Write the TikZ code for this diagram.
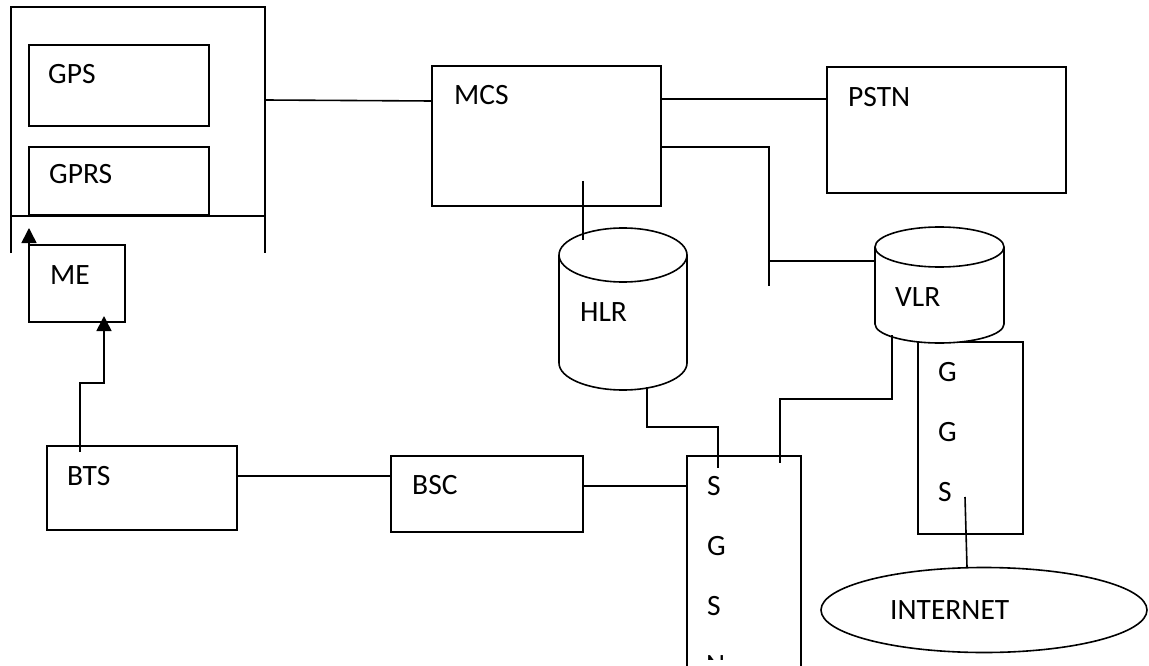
\documentclass[tikz,border=0pt]{standalone}
\usepackage{fontspec}
\setmainfont{Carlito}
\usetikzlibrary{arrows.meta,shapes.geometric}
\begin{document}
\begin{tikzpicture}[x=1pt,y=-1pt,
  ln/.style={line width=1.6pt},
  box/.style={draw, line width=1.6pt, rectangle, inner sep=0pt, outer sep=0pt, anchor=north west},
  zone/.style={inner sep=0pt, outer sep=0pt, anchor=north west},
  lbl/.style={inner sep=0pt, anchor=west, font=\fontsize{29.5}{34}\selectfont},
  arr/.style={line width=1.6pt, -{Triangle[length=15pt,width=15pt]}}]
\useasboundingbox (0,0) rectangle (1149,666);
\clip (0,0) rectangle (1149,666);

% terminal frame
\coordinate (fTL) at (11,7);
\coordinate (fTR) at (265,7);
\coordinate (fBL) at (11,253);
\coordinate (fBR) at (265,253);
\coordinate (fML) at (11,216);
\coordinate (fMR) at (265,216);
\draw[ln] (fBL) -- (fTL) -- (fTR) -- (fBR);
\draw[ln] (fML) -- (fMR);

% boxes
\node[box, minimum width=180pt, minimum height=81pt] (gps) at (29,45) {};
\node[box, minimum width=180pt, minimum height=68pt] (gprs) at (29,147) {};
\node[box, minimum width=96pt, minimum height=77pt] (me) at (29,245) {};
\node[box, minimum width=190pt, minimum height=84pt] (bts) at (47,446) {};
\node[box, minimum width=192pt, minimum height=76pt] (bsc) at (391,456) {};
\node[box, minimum width=229pt, minimum height=140pt] (mcs) at (432,66) {};
\node[box, minimum width=239pt, minimum height=126pt] (pstn) at (827,67) {};
\node[box, minimum width=114pt, minimum height=264pt] (sgsn) at (687,456) {};
\node[box, minimum width=105pt, minimum height=192pt] (ggsn) at (918,342) {};

% HLR cylinder
\node[zone, minimum width=128pt, minimum height=162pt] (hlr) at (559,228) {};
\draw[ln] (559,255) -- (559,363) arc[start angle=180, end angle=360, x radius=64pt, y radius=27pt] -- (687,255);
\draw[ln] (623,255) ellipse [x radius=64pt, y radius=27pt];

% VLR cylinder
\node[zone, minimum width=129pt, minimum height=116pt] (vlr) at (875,227) {};
\draw[ln, fill=white] (875,247) -- (875,324) arc[start angle=180, end angle=360, x radius=64.5pt, y radius=19pt] -- (1004,247);
\draw[ln] (939.5,247) ellipse [x radius=64.5pt, y radius=20pt];

% Internet
\node[draw, ellipse, line width=1.6pt, inner sep=0pt, minimum width=326pt, minimum height=85pt] (inet) at (984,610) {};

% labels
\node[lbl] (gpsT) at (48,74.5) {GPS};
\node[lbl] (gprsT) at (49,174) {GPRS};
\node[lbl] (meT) at (50,275) {ME};
\node[lbl] (btsT) at (67,476) {BTS};
\node[lbl] (bscT) at (412,485) {BSC};
\node[lbl] (mcsT) at (454,95) {MCS};
\node[lbl] (pstnT) at (848,97) {PSTN};
\node[lbl] (hlrT) at (580,312) {HLR};
\node[lbl] (vlrT) at (895,297) {VLR};
\node[lbl] (gg1) at (938,372) {G};
\node[lbl] (gg2) at (938,432) {G};
\node[lbl] (gg3) at (938,492) {S};
\node[lbl] (sg1) at (707,486) {S};
\node[lbl] (sg2) at (707,546) {G};
\node[lbl] (sg3) at (707,606) {S};
\begin{scope}
\clip (690,640) rectangle (798,659);
\node[lbl] (sg4) at (706,665) {N};
\end{scope}
\node[lbl] (inetT) at (890,610) {INTERNET};

% connectors
\draw[ln] (fTR |- 0,100) -- (mcs.west |- 0,101);
\draw[ln] (mcs.east |- 0,99) -- (pstn.west |- 0,99);
\draw[ln] (mcs.east |- 0,147) -| (769,286);
\draw[ln] (769,261) -- (vlr.west |- 0,261);
\coordinate (h1) at (583,181);
\coordinate (h2) at (583,240);
\draw[ln] (h1) -- (h2);
\coordinate (h3) at (647,387);
\coordinate (s1) at (718,468);
\draw[ln] (h3) |- (s1 |- 0,427) -- (s1);
\coordinate (v1) at (892,335);
\coordinate (s2) at (780,463);
\draw[ln] (v1) |- (s2 |- 0,399) -- (s2);
\draw[ln] (bts.east |- 0,476) -- (bsc.west |- 0,476);
\draw[ln] (bsc.east |- 0,486) -- (sgsn.west |- 0,486);
\coordinate (g1) at (965,497);
\draw[ln] (g1) -- (967,567);

% arrows
\draw[arr] (me.north west) -- ++(0,-17);
\draw[arr] ([xshift=33pt,yshift=-6pt]bts.north west) -- ++(0,-69) -| ([xshift=75pt,yshift=6pt]me.south west);
\end{tikzpicture}
\end{document}
